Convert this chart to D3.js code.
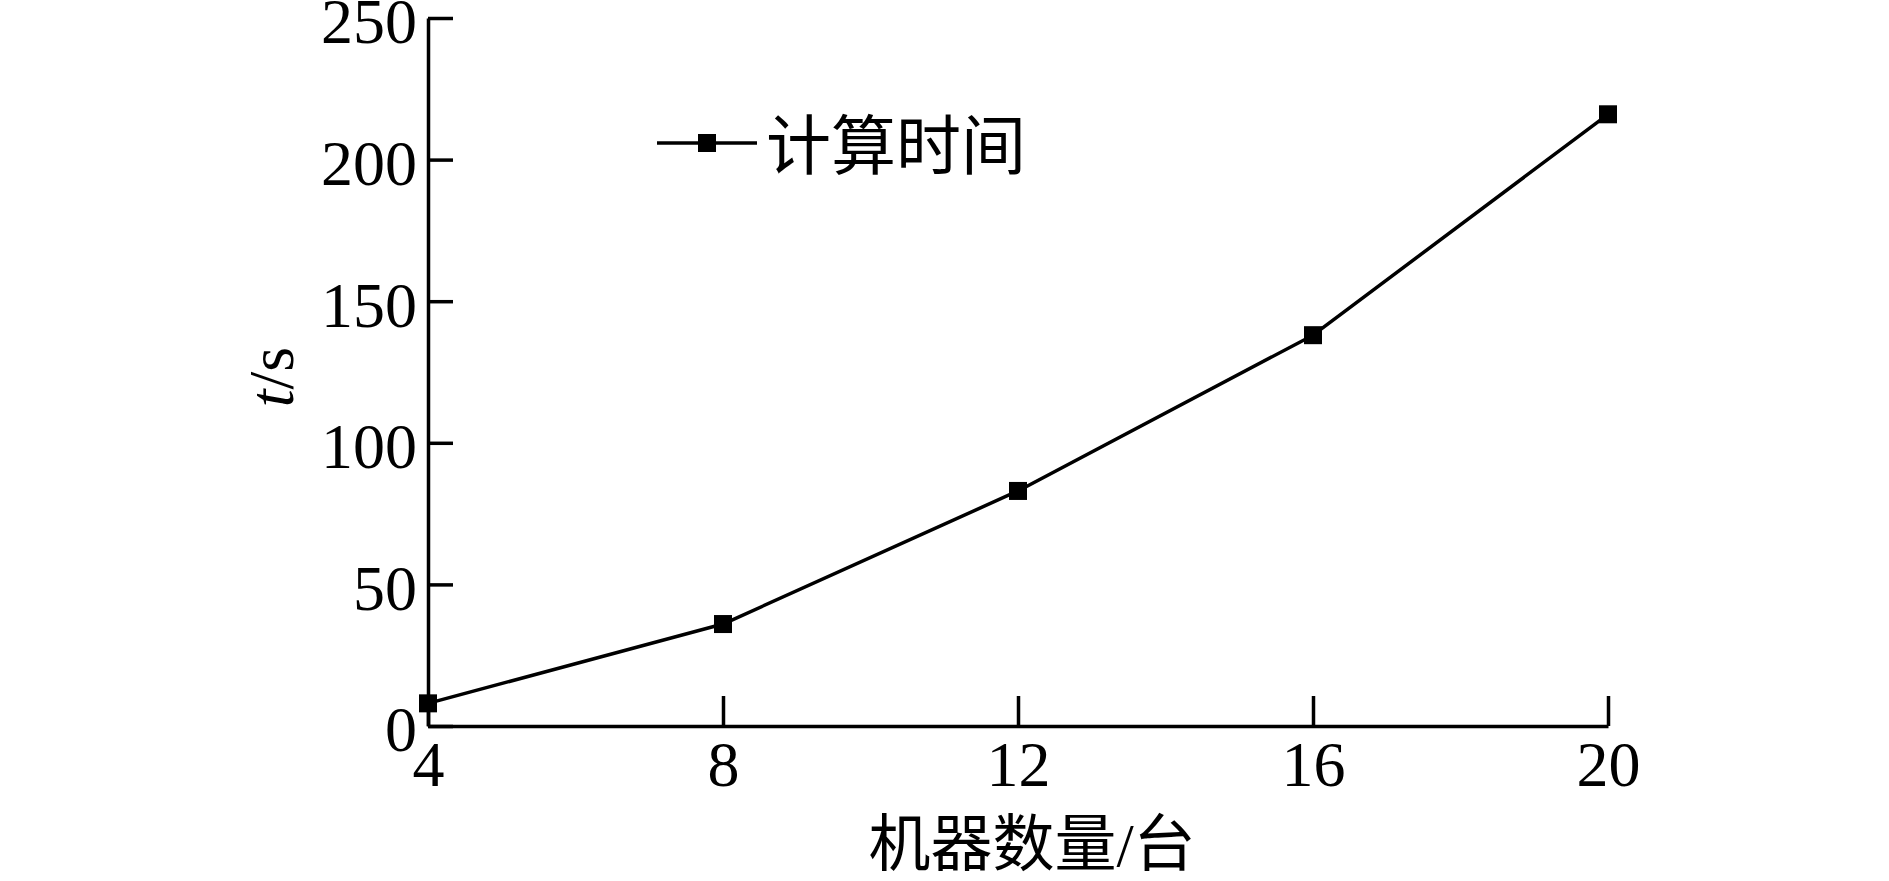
<!DOCTYPE html>
<html>
<head>
<meta charset="utf-8">
<script src="https://cdn.jsdelivr.net/npm/d3@7"></script>
<style>
  html, body { margin: 0; padding: 0; background: #fff; }
</style>
</head>
<body>
<div id="chart"></div>
<script>
const machines = [4, 8, 12, 16, 20];
const times = [8, 36, 83, 138, 216];
const xTicks = [4, 8, 12, 16, 20];
const yTicks = [0, 50, 100, 150, 200, 250];
const seriesName = "计算时间";
const xTitle = "机器数量/台";

const width = 1889;
const height = 881;
const numFont = "'Liberation Serif', 'Times New Roman', serif";
const cjkFont = "'Liberation Serif', 'Noto Sans CJK SC', serif";

const data = machines.map((m, i) => ({ m: m, t: times[i] }));

const svg = d3
  .select("#chart")
  .append("svg")
  .attr("width", width)
  .attr("height", height)
  .style("background", "#fff");

const x = d3.scaleLinear().domain([4, 20]).range([428, 1608]);
const y = d3.scaleLinear().domain([0, 250]).range([726, 18]);

// axes, ticks point inward
const gx = svg
  .append("g")
  .attr("transform", "translate(0," + y(0) + ")")
  .call(
    d3.axisBottom(x).tickValues(xTicks).tickSizeInner(-30).tickSizeOuter(0).tickPadding(15)
  );

const gy = svg
  .append("g")
  .attr("transform", "translate(" + x(4) + ",0)")
  .call(
    d3.axisLeft(y).tickValues(yTicks).tickSizeInner(-25).tickSizeOuter(0).tickPadding(11)
  );
gy.selectAll(".tick text").attr("dy", "0.39em");

[gx, gy].forEach((g) => {
  g.select(".domain").attr("stroke", "#000").attr("stroke-width", 3.5);
  g.selectAll(".tick line").attr("stroke", "#000").attr("stroke-width", 3.5);
  g.selectAll(".tick text")
    .attr("fill", "#000")
    .style("font-family", numFont)
    .style("font-size", "64px");
});

// line + square markers
const line = d3
  .line()
  .x((d) => x(d.m))
  .y((d) => y(d.t));

svg
  .append("path")
  .datum(data)
  .attr("fill", "none")
  .attr("stroke", "#000")
  .attr("stroke-width", 3.5)
  .attr("stroke-linejoin", "round")
  .attr("d", line);

const ms = 18;
svg
  .selectAll("rect.pt")
  .data(data)
  .enter()
  .append("rect")
  .attr("class", "pt")
  .attr("x", (d) => x(d.m) - ms / 2)
  .attr("y", (d) => y(d.t) - ms / 2)
  .attr("width", ms)
  .attr("height", ms)
  .attr("fill", "#000");

// axis titles
const yLab = svg
  .append("text")
  .attr("transform", "translate(293,377) rotate(-90)")
  .attr("text-anchor", "middle")
  .attr("fill", "#000")
  .style("font-family", numFont)
  .style("font-size", "64px");
yLab.append("tspan").style("font-style", "italic").text("t");
yLab.append("tspan").text("/s");

svg
  .append("text")
  .attr("x", 1032)
  .attr("y", 866)
  .attr("text-anchor", "middle")
  .attr("fill", "#000")
  .style("font-family", cjkFont)
  .style("font-size", "62px")
  .text(xTitle);

// legend
const lg = svg.append("g");
lg.append("line")
  .attr("x1", 657)
  .attr("x2", 757)
  .attr("y1", 143)
  .attr("y2", 143)
  .attr("stroke", "#000")
  .attr("stroke-width", 3.5);
lg.append("rect")
  .attr("x", 707 - ms / 2)
  .attr("y", 143 - ms / 2)
  .attr("width", ms)
  .attr("height", ms)
  .attr("fill", "#000");
lg.append("text")
  .attr("x", 766)
  .attr("y", 169)
  .attr("fill", "#000")
  .style("font-family", cjkFont)
  .style("font-size", "65px")
  .text(seriesName);
</script>
</body>
</html>
